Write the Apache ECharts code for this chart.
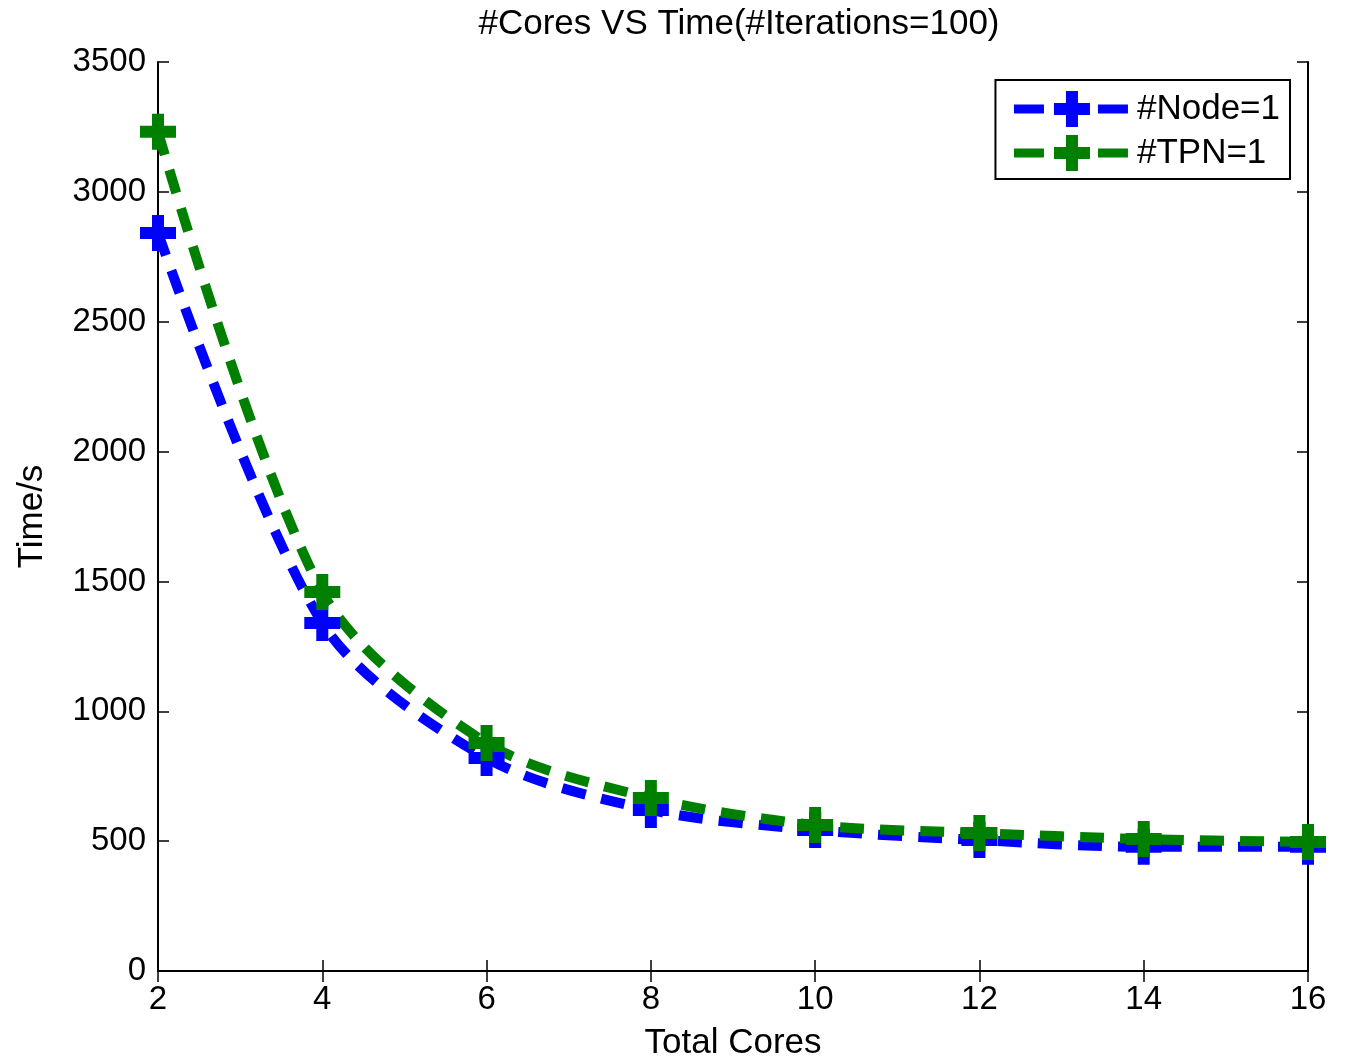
<!DOCTYPE html>
<html>
<head>
<meta charset="utf-8">
<script src="https://cdn.jsdelivr.net/npm/echarts@6/dist/echarts.min.js"></script>
<style>
html,body{margin:0;padding:0;background:#fff;}
#chart{width:1348px;height:1059px;}
</style>
</head>
<body>
<div id="chart"></div>
<script>
var cores = [2, 4, 6, 8, 10, 12, 14, 16];
var nodeTimes = [2842, 1340, 820, 620, 543, 504, 478, 478];
var tpnTimes = [3231, 1459, 878, 666, 562, 531, 508, 497];
var seriesNames = ['#Node=1', '#TPN=1'];
var xTicks = [2, 4, 6, 8, 10, 12, 14, 16];
var yTicks = [0, 500, 1000, 1500, 2000, 2500, 3000, 3500];

var FONT = '"Liberation Sans", Arial, sans-serif';
var plus = 'path://M12,0 H24 V12 H36 V24 H24 V36 H12 V24 H0 V12 H12 Z';

function pairs(xs, ys){ return xs.map(function(x,i){ return [x, ys[i]]; }); }

var chart = echarts.init(document.getElementById('chart'));
var axisLine = {show:true, lineStyle:{color:'#000', width:2}};
var tickStyle = {show:true, inside:true, length:11, lineStyle:{color:'#000', width:1.5}};
chart.setOption({
  animation:false,
  backgroundColor:'#fff',
  title:{text:'#Cores VS Time(#Iterations=100)', left:734, textAlign:'center', top:2,
    textStyle:{fontFamily:FONT, fontSize:35, fontWeight:'normal', color:'#000'}},
  grid:{left:158, right:40, top:62, bottom:88, containLabel:false, outerBoundsMode:'none'},
  legend:{
    right:58, top:80, orient:'vertical',
    padding:[11,10,8,14],
    borderColor:'#000', borderWidth:2, backgroundColor:'#fff',
    itemWidth:116, itemHeight:45, itemGap:8,
    lineStyle:{width:9, type:[30,12]},
    textStyle:{fontFamily:FONT, fontSize:35, color:'#000', padding:[0,0,0,2]},
    data:seriesNames
  },
  xAxis:[{
    type:'value', min:2, max:16, interval:2, position:'bottom',
    axisLine:axisLine, axisTick:tickStyle, splitLine:{show:false},
    axisLabel:{fontFamily:FONT, fontSize:33, color:'#000', margin:12,
      formatter:function(v){ return xTicks.indexOf(v)>=0 ? String(v) : ''; }},
    name:'Total Cores', nameLocation:'middle', nameGap:55,
    nameTextStyle:{fontFamily:FONT, fontSize:35, color:'#000'}
  },{
    type:'value', min:2, max:16, interval:2, position:'top',
    axisLine:axisLine, axisTick:tickStyle, axisLabel:{show:false}, splitLine:{show:false}
  }],
  yAxis:[{
    type:'value', min:0, max:3500, interval:500, position:'left',
    axisLine:axisLine, axisTick:tickStyle, splitLine:{show:false},
    axisLabel:{fontFamily:FONT, fontSize:33, color:'#000', margin:12,
      formatter:function(v){ return yTicks.indexOf(v)>=0 ? String(v) : ''; }},
    name:'Time/s', nameLocation:'middle', nameGap:108, nameRotate:90,
    nameTextStyle:{fontFamily:FONT, fontSize:35, color:'#000'}
  },{
    type:'value', min:0, max:3500, interval:500, position:'right',
    axisLine:axisLine, axisTick:tickStyle, axisLabel:{show:false}, splitLine:{show:false}
  }],
  series:[{
    name:seriesNames[0], type:'line', data:pairs(cores, nodeTimes),
    smooth:0.3, symbol:plus, symbolSize:36, showAllSymbol:true,
    color:'#0000ff',
    lineStyle:{color:'#0000ff', width:10, type:[24,16]},
    itemStyle:{color:'#0000ff', borderWidth:0}
  },{
    name:seriesNames[1], type:'line', data:pairs(cores, tpnTimes),
    smooth:0.3, symbol:plus, symbolSize:36, showAllSymbol:true,
    color:'#008000',
    lineStyle:{color:'#008000', width:10, type:[24,16]},
    itemStyle:{color:'#008000', borderWidth:0}
  }]
});
</script>
</body>
</html>
